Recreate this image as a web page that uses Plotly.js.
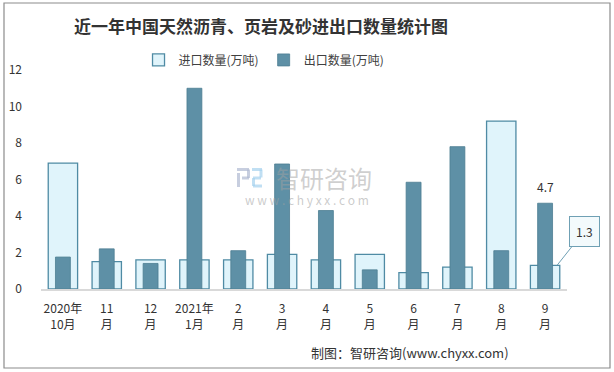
<!DOCTYPE html>
<html>
<head>
<meta charset="utf-8">
<script src="https://cdn.plot.ly/plotly-3.0.1.min.js"></script>
<style>
html,body{margin:0;padding:0;background:#fff;}
#chart{width:614px;height:372px;}
</style>
</head>
<body>
<div id="chart"></div>
<script>
const categories = ["2020年<br>10月","11<br>月","12<br>月","2021年<br>1月","2<br>月","3<br>月","4<br>月","5<br>月","6<br>月","7<br>月","8<br>月","9<br>月"];
const importVals = [6.9, 1.5, 1.6, 1.6, 1.6, 1.9, 1.6, 1.9, 0.9, 1.2, 9.2, 1.3];
const exportVals = [1.75, 2.2, 1.4, 11.0, 2.1, 6.85, 4.3, 1.05, 5.85, 7.8, 2.1, 4.7];
const yTicks = [0, 2, 4, 6, 8, 10, 12];
const seriesNames = ["进口数量(万吨)", "出口数量(万吨)"];

const font = "'Noto Sans CJK SC', 'Microsoft YaHei', sans-serif";
const last = categories.length - 1;

// plot area geometry (pixels) for paper-coordinate decorations
const M = {l: 41, r: 47, t: 70, b: 83};
const PW = 614 - M.l - M.r, PH = 372 - M.t - M.b;
const px = x => (x - M.l) / PW;
const py = y => (372 - M.b - y) / PH;

const traces = [
  {
    type: "bar", name: seriesNames[0], x: categories, y: importVals,
    width: 0.67,
    marker: {color: "#e0f4fb", line: {color: "#4f8ba4", width: 1.3}},
    hoverinfo: "y"
  },
  {
    type: "bar", name: seriesNames[1], x: categories, y: exportVals,
    width: 0.34,
    marker: {color: "#5e90a6", line: {color: "#4d7d92", width: 0.8}},
    hoverinfo: "y"
  }
];

function seg(x0, y0, x1, y1, color, w) {
  return {type: "line", xref: "paper", yref: "paper",
          x0: px(x0), y0: py(y0), x1: px(x1), y1: py(y1),
          line: {color: color, width: w}, layer: "above"};
}
const logoA = "rgba(175,185,210,0.7)", logoB = "rgba(165,210,238,0.7)";

const layout = {
  width: 614, height: 372,
  margin: M,
  paper_bgcolor: "#fff", plot_bgcolor: "#fff",
  barmode: "overlay",
  font: {family: font, size: 12, color: "#333"},
  title: {
    text: "<b>近一年中国天然沥青、页岩及砂进出口数量统计图</b>",
    font: {family: font, size: 17, color: "#333"},
    x: 261 / 614, xanchor: "center", y: 1 - 27 / 372, yanchor: "middle"
  },
  showlegend: true,
  legend: {
    orientation: "h", x: 0.424, xanchor: "center", y: 1.046, yanchor: "middle",
    font: {family: font, size: 12, color: "#404040"},
    itemwidth: 10, traceorder: "normal", bgcolor: "rgba(0,0,0,0)"
  },
  xaxis: {
    type: "category", tickvals: categories, ticktext: categories,
    range: [-0.5, categories.length - 0.5],
    showline: true, linecolor: "#d9d9d9", linewidth: 1.5,
    ticks: "", showgrid: false, zeroline: false,
    tickfont: {family: font, size: 12, color: "#333"},
    ticklabelstandoff: 8,
    fixedrange: true
  },
  yaxis: {
    range: [0, 12], tickvals: yTicks, ticktext: yTicks.map(String),
    showgrid: false, zeroline: false, showline: false, ticks: "",
    tickfont: {family: font, size: 12, color: "#333"},
    ticklabelstandoff: 18,
    fixedrange: true
  },
  shapes: [
    {type: "rect", xref: "paper", yref: "paper", x0: px(4), x1: px(610), y0: py(368), y1: py(3),
     line: {color: "#8c8c8c", width: 1.2}, fillcolor: "rgba(0,0,0,0)", layer: "below"},
    // watermark logo
    seg(237, 169.5, 249, 169.5, logoA, 3),
    seg(248.5, 169.5, 248.5, 178, logoA, 3),
    seg(242, 178, 249, 178, logoA, 3),
    seg(238.5, 173, 238.5, 187, logoA, 3),
    seg(252, 169.5, 262, 169.5, logoB, 3),
    seg(261, 169.5, 261, 177.5, logoB, 3),
    seg(253, 178, 261, 178, logoB, 3),
    seg(253.5, 178, 253.5, 186, logoB, 3),
    seg(253, 186, 262, 186, logoB, 3)
  ],
  annotations: [
    {xref: "x", yref: "y", x: categories[last], y: exportVals[last], text: String(exportVals[last]),
     showarrow: false, yanchor: "bottom", yshift: 6, font: {family: font, size: 12, color: "#333"}},
    {xref: "x", yref: "y", x: categories[last], y: importVals[last], text: String(importVals[last]),
     showarrow: true, arrowhead: 0, arrowwidth: 1, arrowcolor: "#6fa0b4",
     ax: 27, ay: -34, xshift: 12,
     bgcolor: "#f3fafc", bordercolor: "#6fa0b4", borderwidth: 1, borderpad: 6,
     font: {family: font, size: 12, color: "#333"}},
    {xref: "paper", yref: "paper", x: px(323.5), y: py(177), text: "智研咨询", showarrow: false,
     font: {family: font, size: 24, color: "rgba(160,160,160,0.5)"}},
    {xref: "paper", yref: "paper", x: px(307), y: py(199), text: "w w w . c h y x x . c o m", showarrow: false,
     font: {family: font, size: 12, color: "rgba(160,160,160,0.55)"}},
    {xref: "paper", yref: "paper", x: px(511), y: py(352), xanchor: "right", yanchor: "middle",
     text: "制图：智研咨询(www.chyxx.com)", showarrow: false,
     font: {family: font, size: 13, color: "#333"}}
  ]
};

Plotly.newPlot("chart", traces, layout, {displayModeBar: false, staticPlot: true});
</script>
</body>
</html>
